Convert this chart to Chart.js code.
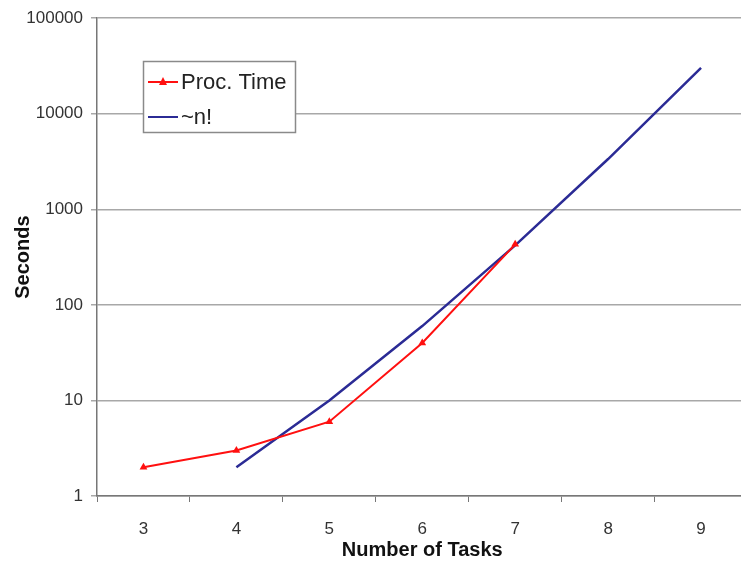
<!DOCTYPE html>
<html>
<head>
<meta charset="utf-8">
<script src="https://cdn.jsdelivr.net/npm/chart.js@4"></script>
<style>
  html, body { margin: 0; padding: 0; background: #fff; overflow: hidden; }
  #wrap { width: 752px; height: 562px; }
</style>
</head>
<body>
<div id="wrap"><canvas id="grafica"></canvas></div>
<script>
// datos
const tareas = ['3', '4', '5', '6', '7', '8', '9'];
const tiempoProc = [2, 3, 6, 40, 430, null, null];
const nFactorial = [null, 2, 10, 60, 420, 3360, 30240];
const ticksY = [1, 10, 100, 1000, 10000, 100000];

const fuente = '"Liberation Sans", Arial, sans-serif';

// leyenda dibujada dentro del area del grafico
const leyendaInterna = {
  id: 'leyendaInterna',
  afterDraw(chart) {
    const ctx = chart.ctx;
    const x = 143, y = 61, w = 152, h = 71;
    ctx.save();
    ctx.fillStyle = '#fff';
    ctx.fillRect(x, y, w, h);
    ctx.strokeStyle = '#8a8a8a';
    ctx.lineWidth = 1.5;
    ctx.strokeRect(x + 0.5, y + 0.5, w, h);
    ctx.font = '22px ' + fuente;
    ctx.textBaseline = 'middle';
    chart.data.datasets.forEach((ds, i) => {
      const cy = y + 21 + i * 35;
      ctx.strokeStyle = ds.borderColor;
      ctx.lineWidth = 2;
      ctx.beginPath();
      ctx.moveTo(x + 5, cy);
      ctx.lineTo(x + 35, cy);
      ctx.stroke();
      if (ds.pointStyle === 'triangle') {
        ctx.fillStyle = ds.borderColor;
        ctx.beginPath();
        ctx.moveTo(x + 20, cy - 5);
        ctx.lineTo(x + 24, cy + 3);
        ctx.lineTo(x + 16, cy + 3);
        ctx.closePath();
        ctx.fill();
      }
      ctx.fillStyle = '#222';
      ctx.fillText(ds.label, x + 38, cy + 1);
    });
    ctx.restore();
  }
};

new Chart(document.getElementById('grafica').getContext('2d'), {
  type: 'line',
  data: {
    labels: tareas,
    datasets: [{
      label: 'Proc. Time',
      data: tiempoProc,
      borderColor: '#ff1010',
      backgroundColor: '#ff1010',
      borderWidth: 2,
      pointStyle: 'triangle',
      pointRadius: 4.5,
      pointBorderWidth: 0,
      tension: 0,
      spanGaps: false
    }, {
      label: '~n!',
      data: nFactorial,
      borderColor: '#2b2b95',
      backgroundColor: '#2b2b95',
      borderWidth: 2.5,
      pointRadius: 0,
      tension: 0
    }]
  },
  options: {
    responsive: true,
    maintainAspectRatio: false,
    animation: false,
    layout: { padding: { top: 17, right: 4, left: 0, bottom: 0 } },
    plugins: { legend: { display: false }, tooltip: { enabled: false } },
    scales: {
      x: {
        offset: true,
        grid: { offset: true, drawOnChartArea: false, drawTicks: true, tickLength: 6, color: '#777' },
        border: { color: '#777', width: 1.5 },
        ticks: { color: '#333', font: { family: fuente, size: 17 }, padding: 17 },
        title: { display: true, text: 'Number of Tasks', color: '#111', font: { family: fuente, size: 20, weight: 'bold' }, padding: { top: 1, bottom: 0 } },
        afterFit(s) { s.height = 66; }
      },
      y: {
        type: 'logarithmic',
        min: 1,
        max: 100000,
        afterBuildTicks(s) { s.ticks = ticksY.map(v => ({ value: v })); },
        grid: { color: '#a8a8a8', lineWidth: 1.5, drawTicks: true, tickLength: 6 },
        border: { color: '#777', width: 1.5 },
        ticks: { color: '#333', font: { family: fuente, size: 17 }, padding: 8, callback: v => String(v) },
        title: { display: true, text: 'Seconds', color: '#111', font: { family: fuente, size: 20, weight: 'bold' }, padding: { top: 11, bottom: 0 } },
        afterFit(s) { s.width = 97; }
      }
    }
  },
  plugins: [leyendaInterna]
});
</script>
</body>
</html>
